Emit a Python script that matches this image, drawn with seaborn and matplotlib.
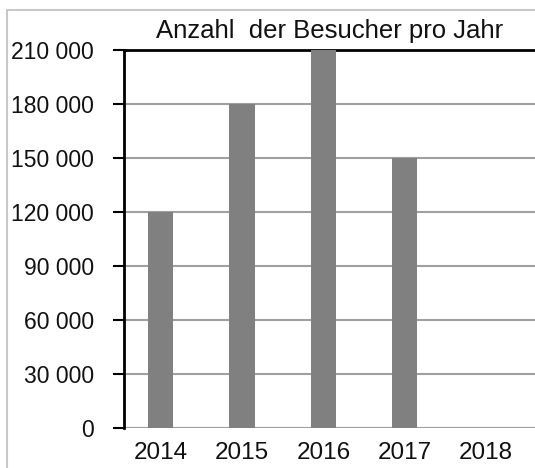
import matplotlib
matplotlib.use("Agg")
import matplotlib.pyplot as plt
import seaborn as sns
import pandas as pd
from matplotlib.patches import Rectangle
from matplotlib.ticker import FuncFormatter

years = ["2014", "2015", "2016", "2017", "2018"]
visitors = [120000, 180000, 210000, 150000, 0]
yticks = [0, 30000, 60000, 90000, 120000, 150000, 180000, 210000]

df = pd.DataFrame({"Jahr": years, "Besucher": visitors})

sns.set_style("white")
plt.rcParams['font.family'] = ['Liberation Sans', 'DejaVu Sans']

fig = plt.figure(figsize=(5.35, 4.68), dpi=100)
ax = fig.add_axes([124/535, 1 - 428/468, 1.0 - 124/535, (428 - 50)/468])

sns.barplot(data=df, x="Jahr", y="Besucher", color="#808080", saturation=1,
            width=0.31, linewidth=0, ax=ax, zorder=3)

ax.set_ylim(0, 210000)
ax.set_xlim(-0.45, 4.6)
ax.set_yticks(yticks)
ax.yaxis.set_major_formatter(FuncFormatter(lambda v, p: f"{int(v):,}".replace(",", " ")))
ax.grid(axis="y", color="#a0a0a0", linewidth=1.5, zorder=0)
ax.set_axisbelow(True)

for s in ["right", "bottom"]:
    ax.spines[s].set_visible(False)
ax.spines["left"].set_color("black")
ax.spines["left"].set_linewidth(2)
ax.spines["top"].set_color("black")
ax.spines["top"].set_linewidth(2)
ax.axhline(0, color="#a0a0a0", linewidth=1.5, zorder=2)

ax.tick_params(axis="y", direction="out", length=8, width=1.5, color="black",
               labelsize=16.5, pad=13.5, left=True, labelcolor="#111111")
ax.tick_params(axis="x", length=0, labelsize=17.5, pad=10, labelcolor="#111111")
ax.set_xlabel("")
ax.set_ylabel("")
ax.set_title("Anzahl  der Besucher pro Jahr", fontsize=18.5, pad=8.5, color="#111111")

fig.patches.append(Rectangle((7/535, -0.1), 1.2, 1.1 - 10/468,
                             transform=fig.transFigure, fill=False,
                             edgecolor="#c8c8c8", linewidth=1.5))

fig.savefig("out.png", dpi=100)
